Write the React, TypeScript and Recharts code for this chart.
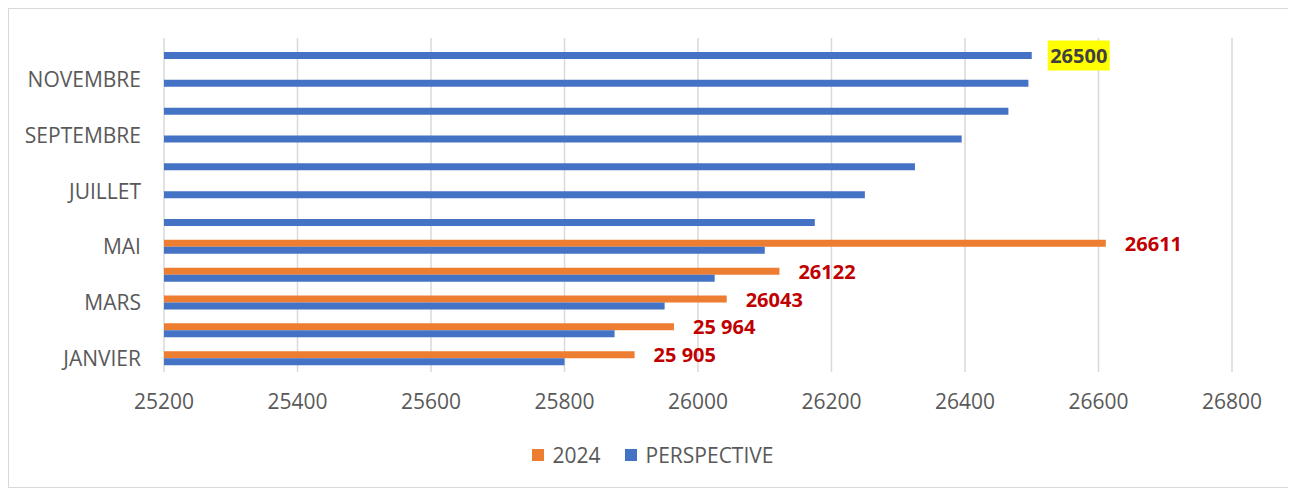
import { Bar, BarChart, CartesianGrid, LabelList, Legend, XAxis, YAxis } from "recharts";

const MONTHS = [
  "JANVIER", "FEVRIER", "MARS", "AVRIL", "MAI", "JUIN",
  "JUILLET", "AOUT", "SEPTEMBRE", "OCTOBRE", "NOVEMBRE", "DECEMBRE",
];
const VALUES_2024 = [25905, 25964, 26043, 26122, 26611, null, null, null, null, null, null, null];
const LABELS_2024 = ["25 905", "25 964", "26043", "26122", "26611", null, null, null, null, null, null, null];
const VALUES_PERSPECTIVE = [25800, 25875, 25950, 26025, 26100, 26175, 26250, 26325, 26395, 26465, 26495, 26500];
const LABELS_PERSPECTIVE = [null, null, null, null, null, null, null, null, null, null, null, "26500"];
const X_TICKS = [25200, 25400, 25600, 25800, 26000, 26200, 26400, 26600, 26800];

const data = MONTHS.map((m, i) => ({
  month: m,
  y2024: VALUES_2024[i],
  perspective: VALUES_PERSPECTIVE[i],
  l2024: LABELS_2024[i],
  lPerspective: LABELS_PERSPECTIVE[i],
}));

const FONT = "'Open Sans', sans-serif";
const GREY = "#595959";

function RedLabel(props: any) {
  const { x, y, width, height, value } = props;
  if (value == null) return null;
  return (
    <text
      x={x + width + 19}
      y={y + height / 2}
      dominantBaseline="central"
      fill="#C00000"
      fontWeight="bold"
      fontSize={20}
      fontFamily={FONT}
    >
      {value}
    </text>
  );
}

function HighlightLabel(props: any) {
  const { x, y, width, height, value } = props;
  if (value == null) return null;
  const cx = x + width + 16;
  const cy = y + height / 2;
  return (
    <g>
      <rect x={cx} y={cy - 15} width={62} height={30} fill="#FFFF00" />
      <text
        x={cx + 31}
        y={cy}
        textAnchor="middle"
        dominantBaseline="central"
        fill="#404040"
        fontWeight="bold"
        fontSize={20}
        fontFamily={FONT}
      >
        {value}
      </text>
    </g>
  );
}

function LegendBox() {
  const item = (color: string, text: string) => (
    <span style={{ display: "inline-flex", alignItems: "center", margin: "0 12px" }}>
      <span style={{ width: 12, height: 12, background: color, marginRight: 9 }} />
      <span>{text}</span>
    </span>
  );
  return (
    <div
      style={{
        height: 27,
        display: "flex",
        justifyContent: "center",
        alignItems: "center",
        paddingLeft: 64,
        fontFamily: FONT,
        fontSize: 21,
        color: GREY,
      }}
    >
      {item("#ED7D31", "2024")}
      {item("#4472C4", "PERSPECTIVE")}
    </div>
  );
}

export default function App() {
  return (
    <div style={{ width: 1283, height: 478, border: "1px solid #d9d9d9", background: "#fff" }}>
      <BarChart
        width={1283}
        height={478}
        data={data}
        layout="vertical"
        barSize={7}
        barGap={0}
        margin={{ top: 29, right: 60, bottom: 19, left: 0 }}
      >
        <CartesianGrid horizontal={false} stroke="#d9d9d9" strokeWidth={1.5} />
        <XAxis
          type="number"
          domain={[25200, 26800]}
          ticks={X_TICKS}
          axisLine={false}
          tickLine={false}
          tickMargin={16}
          height={69}
          tick={{ fill: GREY, fontSize: 21, fontFamily: FONT }}
        />
        <YAxis
          type="category"
          dataKey="month"
          reversed
          interval={1}
          axisLine={false}
          tickLine={false}
          tickMargin={17}
          width={155}
          tick={{ fill: GREY, fontSize: 21, fontFamily: FONT }}
        />
        <Legend verticalAlign="bottom" content={() => <LegendBox />} />
        <Bar dataKey="y2024" name="2024" fill="#ED7D31" isAnimationActive={false}>
          <LabelList dataKey="l2024" content={RedLabel} />
        </Bar>
        <Bar dataKey="perspective" name="PERSPECTIVE" fill="#4472C4" isAnimationActive={false}>
          <LabelList dataKey="lPerspective" content={HighlightLabel} />
        </Bar>
      </BarChart>
    </div>
  );
}
